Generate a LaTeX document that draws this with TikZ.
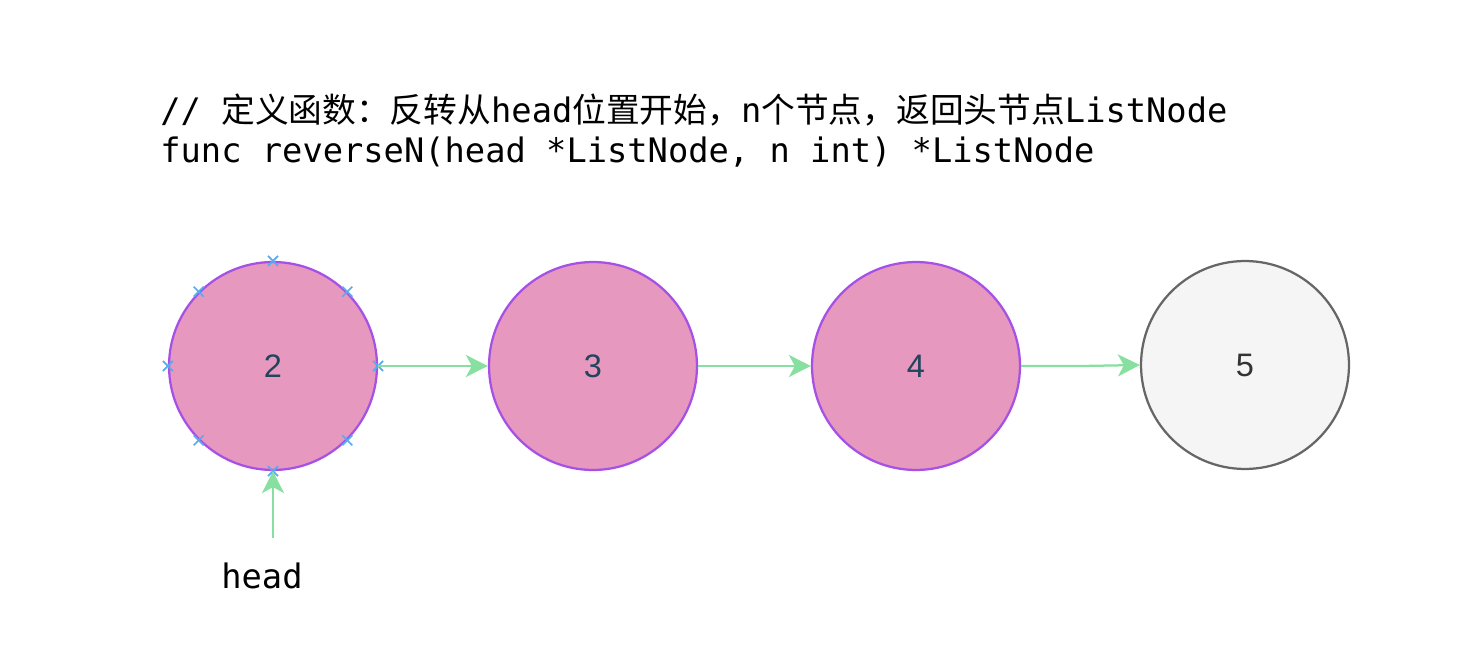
\documentclass[tikz,border=0pt]{standalone}
\usepackage{fontspec}
\setmonofont{DejaVu Sans Mono}
\setsansfont{Liberation Sans}
\newfontfamily\cjk{Noto Sans CJK SC}
\usetikzlibrary{arrows.meta,calc}
\begin{document}
\begin{tikzpicture}[x=0.02cm,y=-0.02cm,
    listnode/.style={circle,draw=r166g80b230,fill=r230g152b191,line width=0.045cm,
      minimum size=4.16cm,inner sep=0pt,text=r35g68b93,
      font=\sffamily\fontsize{18.5}{20}\selectfont},
    restnode/.style={listnode,draw=r102g102b102,fill=r245g245b245,text=r51g51b51},
    link/.style={draw=r136g224b160,line width=0.045cm,
      -{Stealth[length=0.44cm,width=0.44cm,inset=0.12cm]}},
    handle/.style={draw=r90g170b240,line width=0.035cm},
    code/.style={anchor=base west,inner sep=0pt,
      font=\ttfamily\fontsize{19.2}{22}\selectfont}]

    % Changing colors
    \definecolor{r230g152b191}{rgb}{0.901961,0.596078,0.749020}%
    \definecolor{r166g80b230}{rgb}{0.650980,0.313725,0.901961}%
    \definecolor{r35g68b93}{rgb}{0.137255,0.266667,0.364706}%
    \definecolor{r245g245b245}{rgb}{0.960784,0.960784,0.960784}%
    \definecolor{r102g102b102}{rgb}{0.400000,0.400000,0.400000}%
    \definecolor{r51g51b51}{rgb}{0.200000,0.200000,0.200000}%
    \definecolor{r136g224b160}{rgb}{0.533333,0.878431,0.627451}%
    \definecolor{r90g170b240}{rgb}{0.352941,0.666667,0.941176}%

    \useasboundingbox (0,0) rectangle (1468,658);

    % Writing the signature
    \node[code] (cmt) at (160,123) {// {\cjk 定义函数：反转从}head{\cjk 位置开始，}n{\cjk 个节点，返回头节点}ListNode};
    \node[code] (sig) at (160,163) {func reverseN(head *ListNode, n int) *ListNode};

    % Drawing list nodes
    \node[listnode] (n2) at (273,366) {2};
    \node[listnode] (n3) at (593,366) {3};
    \node[listnode] (n4) at (916,366) {4};
    \node[restnode] (n5) at (1245,365) {5};

    % Marking selection handles of node 2
    \foreach \a in {0,45,...,315}
      \draw[handle] (n2.\a) ++(-5,-5) -- ++(10,10) ++(-10,0) -- ++(10,-10);

    % Drawing links
    \coordinate (k45) at (1082,366);
    \draw[link] (n2.east) -- (n3.west);
    \draw[link] (n3.east) -- (n4.west);
    \draw[link] (n4.east) -- (k45) -- (n5.west);

    % Drawing head pointer
    \coordinate (hd) at (273,538);
    \draw[link] (hd) -- (n2.south);
    \node[code,anchor=center] (hlbl) at (262,576) {head};
\end{tikzpicture}
\end{document}
